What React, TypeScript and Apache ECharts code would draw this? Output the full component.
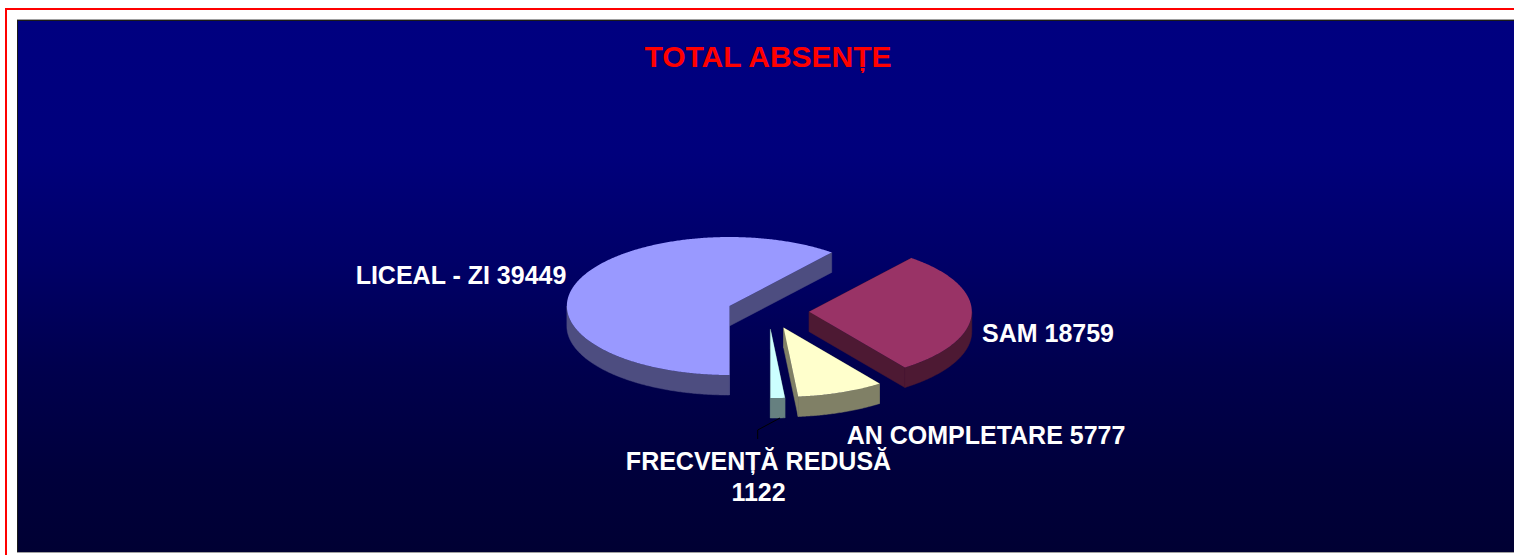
import React, { useEffect, useRef } from "react";
import * as echarts from "echarts";

const titleText = "TOTAL ABSENȚE";
const categories = ["LICEAL - ZI", "SAM", "AN COMPLETARE", "FRECVENȚĂ REDUSĂ"];
const values = [39449, 18759, 5777, 1122];
const labelBreaks = [" ", " ", " ", "\n"];
const topColors = ["#9999FF", "#993366", "#FFFFCC", "#CCFFFF"];
const sideColors = ["#4D4D80", "#4D1933", "#808066", "#668080"];
const labelCentres = [
  [461, 275],
  [1048, 333],
  [986, 435],
  [758.5, 476],
];
// Degrees by which the reference's 3-D projection moves each slice's closing edge.
const edgeShift = [0.85, 2.1, 1.1, 0];

const W = 1514;
const H = 555;
const CX = 768.2;
const CY = 311.7;
const RX = 162.6;
const RY = 69;
const DEPTH = 20;
const EX = 41;
const EY = 17.4;
const START = 180;
const total = values.reduce((a, b) => a + b, 0);

function pt(cx: number, cy: number, deg: number, dy = 0) {
  const r = (deg * Math.PI) / 180;
  return [cx + RX * Math.sin(r), cy - RY * Math.cos(r) + dy];
}

function arc(cx: number, cy: number, a0: number, a1: number, dy = 0) {
  const out: number[][] = [];
  const n = Math.max(2, Math.ceil((a1 - a0) / 0.5));
  for (let i = 0; i <= n; i++) out.push(pt(cx, cy, a0 + ((a1 - a0) * i) / n, dy));
  return out;
}

function renderSlice(params: any, api: any) {
  const i = params.dataIndex;
  const value = api.value(0);
  let before = 0;
  for (let k = 0; k < i; k++) before += values[k];
  const t0 = START + (before / total) * 360;
  const t1 = t0 + (value / total) * 360;
  const a0 = t0 + (i > 0 ? edgeShift[i - 1] : 0);
  const a1 = t1 + edgeShift[i];
  const mid = ((t0 + t1) / 2) * (Math.PI / 180);
  const cx = CX + EX * Math.sin(mid);
  const cy = CY - EY * Math.cos(mid);
  const children: any[] = [];
  const side = { fill: sideColors[i], stroke: sideColors[i], lineWidth: 0.5 };

  // radial walls
  for (const a of [a0, a1]) {
    const p = pt(cx, cy, a);
    children.push({
      type: "polygon",
      shape: { points: [[cx, cy], p, [p[0], p[1] + DEPTH], [cx, cy + DEPTH]] },
      style: side,
    });
  }
  // outer wall: only the part that faces the viewer
  const ranges = [[90, 270], [450, 630]];
  for (const [lo, hi] of ranges) {
    const s = Math.max(a0, lo);
    const e = Math.min(a1, hi);
    if (e > s) {
      const upper = arc(cx, cy, s, e);
      const lower = arc(cx, cy, s, e, DEPTH).reverse();
      children.push({
        type: "polygon",
        shape: { points: upper.concat(lower) },
        style: side,
      });
    }
  }
  // seam where a visible radial wall meets the outer wall
  if (a1 > 90 && a1 < 179) {
    const p = pt(cx, cy, a1);
    children.push({
      type: "line",
      shape: { x1: p[0], y1: p[1], x2: p[0], y2: p[1] + DEPTH },
      style: { stroke: "rgba(0,0,60,0.55)", lineWidth: 1 },
    });
  }
  // top face
  children.push({
    type: "polygon",
    shape: { points: [[cx, cy], ...arc(cx, cy, a0, a1)] },
    style: { fill: topColors[i] },
  });
  // label
  children.push({
    type: "text",
    x: labelCentres[i][0],
    y: labelCentres[i][1],
    style: {
      text: categories[i] + labelBreaks[i] + value,
      fill: "#FFFFFF",
      font: "bold 25px 'Liberation Sans', Arial, sans-serif",
      align: "center",
      verticalAlign: "middle",
      lineHeight: 31,
    },
  });
  return { type: "group", children };
}

export default function App() {
  const ref = useRef<HTMLDivElement>(null);
  useEffect(() => {
    document.body.style.margin = "0";
    document.body.style.background = "#FFFFFF";
    const chart = echarts.init(ref.current!, null, { renderer: "svg", width: W, height: H });
    chart.setOption({
      animation: false,
      backgroundColor: "#FFFFFF",
      title: {
        text: titleText,
        left: 763,
        top: 36,
        textAlign: "center",
        textStyle: {
          color: "#FF0000",
          fontSize: 30,
          fontWeight: "bold",
          fontFamily: "'Liberation Sans', Arial, sans-serif",
        },
      },
      graphic: [
        { type: "rect", z: -10, shape: { x: 5, y: 8, width: W, height: 2 }, style: { fill: "#FF0000" } },
        { type: "rect", z: -10, shape: { x: 5, y: 8, width: 2, height: H }, style: { fill: "#FF0000" } },
        { type: "rect", z: -10, shape: { x: 17, y: 19, width: W, height: 534 }, style: { fill: "#A0A0A0" } },
        { type: "rect", z: -10, shape: { x: 17, y: 20, width: W, height: 532 }, style: { fill: "#1A1A1A" } },
        {
          type: "rect",
          z: -9,
          shape: { x: 18, y: 21, width: W, height: 531 },
          style: {
            fill: new echarts.graphic.LinearGradient(0, 0, 0, 1, [
              { offset: 0, color: "#000080" },
              { offset: 0.25, color: "#00007C" },
              { offset: 0.45, color: "#000068" },
              { offset: 0.65, color: "#00004E" },
              { offset: 0.85, color: "#00003C" },
              { offset: 1, color: "#000033" },
            ]),
          },
        },
        {
          type: "polyline",
          z: 5,
          shape: { points: [[780, 418], [757.7, 430], [757.7, 439]] },
          style: { stroke: "#000000", lineWidth: 1, fill: "none" },
        },
      ],
      series: [
        {
          type: "custom",
          coordinateSystem: "none",
          silent: true,
          renderItem: renderSlice,
          data: categories.map((name, i) => ({ name, value: [values[i]] })),
        },
      ],
    });
    return () => chart.dispose();
  }, []);
  return <div ref={ref} style={{ width: W, height: H }} />;
}
